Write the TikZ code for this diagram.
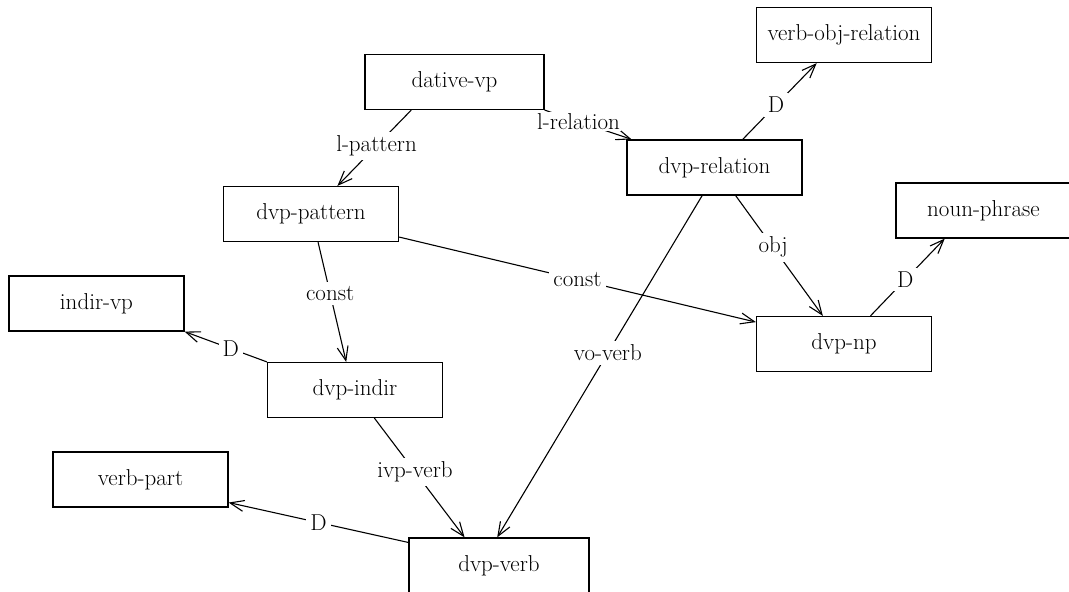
\documentclass[tikz,border=0pt]{standalone}
\usetikzlibrary{arrows.meta,calc}
\begin{document}
\begin{tikzpicture}[x=1pt,y=-1pt,
  box/.style={draw, line width=1.2pt, minimum width=175pt, minimum height=55pt, inner sep=0pt, font=\fontsize{23}{27}\selectfont},
  lab/.style={fill=white, inner sep=4pt, font=\fontsize{23}{27}\selectfont},
  edge/.style={line width=1.1pt, -{Straight Barb[length=14pt,width=11pt,line width=1.1pt]}}]
\useasboundingbox (0,0) rectangle (1069,592);
% nodes
\node[box, minimum width=179pt] (dv) at (454.5,82) {dative-vp};
\node[box] (vor) at (844,35) {verb-obj-relation};
\node[box] (dr) at (714.5,167.5) {dvp-relation};
\node[box] (dp) at (311,214) {dvp-pattern};
\node[box] (np) at (983.5,210.5) {noun-phrase};
\node[box] (iv) at (96.5,303.5) {indir-vp};
\node[box] (dnp) at (844,344) {dvp-np};
\node[box] (di) at (355,390) {dvp-indir};
\node[box] (vp) at (140.5,479.5) {verb-part};
\node[box, minimum width=180pt] (dvb) at (499,565.5) {dvp-verb};
% edges
\draw[edge] ($(dv.south west)!0.26!(dv.south east)$) -- node[lab,pos=0.47]{l-pattern} ($(dp.north west)!0.65!(dp.north east)$);
\draw[edge] (dv.south east) -- node[lab,pos=0.39,inner sep=1pt]{l-relation} ($(dr.north west)!0.03!(dr.north east)$);
\draw[edge] ($(dr.north west)!0.66!(dr.north east)$) -- node[lab,pos=0.45]{D} ($(vor.south west)!0.345!(vor.south east)$);
\draw[edge] ($(dr.south west)!0.62!(dr.south east)$) -- node[lab,pos=0.43]{obj} ($(dnp.north west)!0.38!(dnp.north east)$);
\draw[edge] ($(dr.south west)!0.43!(dr.south east)$) -- node[lab,pos=0.46]{vo-verb} ($(dvb.north west)!0.49!(dvb.north east)$);
\draw[edge] ($(dp.north east)!0.91!(dp.south east)$) -- node[lab,pos=0.5]{const} ($(dnp.north west)!0.11!(dnp.south west)$);
\draw[edge] ($(dp.south west)!0.54!(dp.south east)$) -- node[lab,pos=0.43]{const} ($(di.north west)!0.45!(di.north east)$);
\draw[edge] (di.north west) -- node[lab,pos=0.44]{D} (iv.south east);
\draw[edge] ($(di.south west)!0.61!(di.south east)$) -- node[lab,pos=0.45]{ivp-verb} ($(dvb.north west)!0.31!(dvb.north east)$);
\draw[edge] ($(dvb.north west)!0.09!(dvb.south west)$) -- node[lab,pos=0.5]{D} ($(vp.north east)!0.91!(vp.south east)$);
\draw[edge] ($(dnp.north west)!0.65!(dnp.north east)$) -- node[lab,pos=0.47]{D} ($(np.south west)!0.28!(np.south east)$);
\end{tikzpicture}
\end{document}
